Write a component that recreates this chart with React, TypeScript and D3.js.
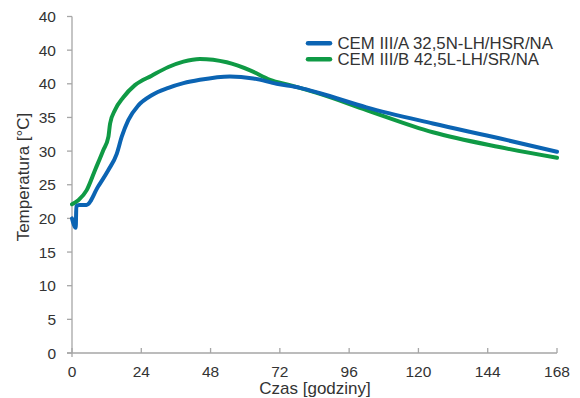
import React from "react";
import * as d3 from "d3";

// Hydration heat curves for two cement types (temperature vs. time)
const hoursA = [0, 1.3, 1.5, 2.5, 5, 9, 12.6, 15.5, 17.2, 19.5, 23, 27.6, 33.4, 38.6, 44.3, 54.7, 62.8, 70.9, 79, 85.9, 102, 125, 148, 168];
const tempA = [20, 18.6, 21.8, 22, 22, 24.7, 27.2, 29.6, 32.1, 34.6, 36.8, 38.3, 39.4, 40.1, 40.6, 41.1, 40.8, 40.0, 39.4, 38.6, 36.5, 34.1, 31.9, 29.9];

const hoursB = [0, 2.2, 5.1, 8, 10.8, 12.6, 13.2, 14.9, 17.8, 21.8, 27.6, 33.4, 38.6, 44.3, 53.6, 61.7, 68.6, 75.5, 85.9, 102, 125, 148, 168];
const tempB = [22.1, 22.7, 24.2, 27.2, 30.1, 32.1, 34.1, 36.1, 38.0, 39.8, 41.2, 42.5, 43.3, 43.7, 43.2, 42.0, 40.6, 39.8, 38.5, 36.1, 32.8, 30.6, 29.0];

const seriesNames = ["CEM III/A 32,5N-LH/HSR/NA", "CEM III/B 42,5L-LH/SR/NA"];
const seriesColors = ["#0b64b3", "#0f9a45"];

const xTicks = [0, 24, 48, 72, 96, 120, 144, 168];
const yTicks = [0, 5, 10, 15, 20, 25, 30, 35, 40, 45, 50];
const yTickLabels = ["0", "5", "10", "15", "20", "25", "30", "35", "40", "40", "40"];

const FONT = "'Liberation Sans', Arial, sans-serif";
const AXIS = "#a6a6a6";
const TEXT = "#333333";

export default function App() {
  const W = 580;
  const H = 398;
  const x = d3.scaleLinear().domain([0, 168]).range([72, 557]);
  const y = d3.scaleLinear().domain([0, 50]).range([353, 16.5]);

  const line = d3
    .line<[number, number]>()
    .x((d) => x(d[0]))
    .y((d) => y(d[1]))
    .curve(d3.curveMonotoneX);

  const ptsA = hoursA.map((h, i) => [h, tempA[i]] as [number, number]);
  const ptsB = hoursB.map((h, i) => [h, tempB[i]] as [number, number]);

  return (
    <svg
      width={W}
      height={H}
      style={{ position: "absolute", left: 0, top: 0, background: "#fff" }}
      fontFamily={FONT}
    >
      {/* y axis */}
      <line x1={x(0)} x2={x(0)} y1={y(50)} y2={y(0) + 4} stroke={AXIS} strokeWidth={1.3} />
      {yTicks.map((t, i) => (
        <g key={"y" + t}>
          <line x1={x(0) - 5} x2={x(0)} y1={y(t)} y2={y(t)} stroke={AXIS} strokeWidth={1.3} />
          <text x={56} y={y(t)} dy="0.36em" textAnchor="end" fontSize={15.5} fill={TEXT}>
            {yTickLabels[i]}
          </text>
        </g>
      ))}
      {/* x axis */}
      <line x1={x(0) - 5} x2={x(168)} y1={y(0)} y2={y(0)} stroke={AXIS} strokeWidth={1.3} />
      {xTicks.map((t) => (
        <g key={"x" + t}>
          <line x1={x(t)} x2={x(t)} y1={y(0)} y2={y(0) - 5} stroke={AXIS} strokeWidth={1.3} />
          <text x={x(t)} y={377} textAnchor="middle" fontSize={15.5} fill={TEXT}>
            {t}
          </text>
        </g>
      ))}
      <text x={315} y={394} textAnchor="middle" fontSize={17} fill={TEXT}>
        Czas [godziny]
      </text>
      <text
        transform={`translate(29, 177) rotate(-90)`}
        textAnchor="middle"
        fontSize={17}
        fill={TEXT}
      >
        Temperatura [°C]
      </text>

      {/* curves */}
      <path d={line(ptsB) ?? ""} fill="none" stroke={seriesColors[1]} strokeWidth={4} strokeLinejoin="round" strokeLinecap="round" />
      <path d={line(ptsA) ?? ""} fill="none" stroke={seriesColors[0]} strokeWidth={4} strokeLinejoin="round" strokeLinecap="round" />

      {/* legend */}
      {seriesNames.map((name, i) => (
        <g key={name} transform={`translate(0, ${43.3 + i * 16})`}>
          <line x1={308} x2={330} y1={0} y2={0} stroke={seriesColors[i]} strokeWidth={4.5} strokeLinecap="round" />
          <text x={337.5} y={0} dy="0.36em" fontSize={16.8} fill={TEXT}>
            {name}
          </text>
        </g>
      ))}
    </svg>
  );
}
